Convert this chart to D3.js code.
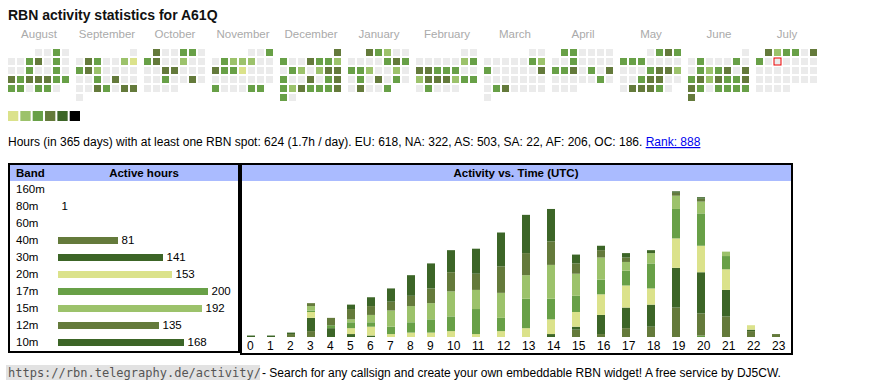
<!DOCTYPE html>
<html><head><meta charset="utf-8">
<script src="https://cdn.jsdelivr.net/npm/d3@7"></script>
<style>
body{margin:0;background:#fff;}
svg{display:block;font-family:"Liberation Sans",Arial,sans-serif;}
</style></head>
<body>
<svg id="chart" width="870" height="390"></svg>
<script>
// ---------- DATA ----------
const callsign = "A61Q";
const monthNames = ["August","September","October","November","December","January","February","March","April","May","June","July"];
const monthStarts = ["2024-08-01","2024-09-01","2024-10-01","2024-11-01","2024-12-01","2025-01-01","2025-02-01","2025-03-01","2025-04-01","2025-05-01","2025-06-01","2025-07-01"];
const todayDate = "2025-07-09";
// activity level per day (0 = none), one array per month
const dailyLevels = [
  [0,0,3,0, 0,0,3,4,0,3,0, 0,0,3,0,0,3,0, 4,3,4,4,4,3,3, 3,3,0,3,3,0],
  [0, 0,4,3,0,0,2,1, 3,4,2,0,0,0,0, 0,0,3,0,4,0,0, 0,0,4,3,0,4,4, 0],
  [4,0,0,3,3,0, 3,4,0,0,2,0,0, 0,0,4,4,0,0,0, 0,0,3,0,0,4,0, 0,0,0,0],
  [0,0,3, 0,3,2,2,2,0,0, 4,3,3,1,0,0,0, 0,0,0,0,0,0,0, 3,0,0,0,3,3],
  [4, 3,0,0,4,3,3,2, 0,3,2,0,2,4,4, 3,0,0,4,0,3,4, 3,2,4,3,3,3,4, 3,0],
  [4,3,2,0,0, 0,0,0,0,3,4,3, 3,3,2,0,0,2,0, 0,3,0,4,0,3,0, 0,4,0,0,3],
  [0,0, 0,0,0,0,0,2,3, 4,4,3,3,3,0,0, 2,4,4,4,2,3,3, 0,3,0,0,0],
  [0,0, 0,0,0,0,0,3,2, 3,0,0,0,0,0,4, 0,0,0,0,0,0,0, 0,3,4,0,0,0,0, 0],
  [3,3,0,0,0,0, 0,0,3,0,0,0,0, 3,3,4,0,3,0,4, 0,0,0,0,0,3,0, 0,0,0],
  [0,3,4,3, 3,3,3,0,0,0,0, 0,0,0,3,4,4,2, 0,0,3,4,4,0,0, 0,4,4,4,3,0],
  [0, 0,3,0,0,0,3,0, 0,3,2,3,4,0,4, 3,4,2,4,3,3,4, 4,3,0,3,3,3,3, 4],
  [4,2,3,3,0,4, 3,0,0,0,0,0,0, 0,0,0,0,0,0,0, 0,0,0,0,0,0,0, 0,0,0,0]
];
const levelColors = ["#ebebeb","#dbe28b","#9cc26b","#68a047","#647a3b","#3c6527","#000000"];
const legendLevels = [1,2,3,4,5,6];

const totalHours = 624, perDay = "1.7h", rank = 888;
const continents = ["EU","NA","AS","SA","AF","OC"];
const continentHours = [618,322,503,22,206,186];

const bands = ["160m","80m","60m","40m","30m","20m","17m","15m","12m","10m"];
const bandHours = [0,1,0,81,141,153,200,192,135,168];
const bandColors = ["#dbe28b","#68a047","#9cc26b","#647a3b","#3c6527","#dbe28b","#68a047","#9cc26b","#647a3b","#3c6527"];

const hourLabels = ["0","1","2","3","4","5","6","7","8","9","10","11","12","13","14","15","16","17","18","19","20","21","22","23"];
const h160m = [0,0,0,0,0,0,0,0,0,0,0,0,0,0,0,0,0,0,0,0,0,0,0,0];
const h80m  = [0,0,0,0,0,0,0,0,0,0,0,0,0,0,0,0,0,0,0,0,1,0,0,0];
const h60m  = [0,0,0,0,0,0,0,0,0,0,0,0,0,0,0,0,0,0,0,0,0,0,0,0];
const h40m  = [0,0,2,4,0,0,0,0,0,0,0,0,0,0,0,5,2,6,7,20,15,14,4,2];
const h30m  = [1,1,1,9,6,2,1,0,0,0,0,0,0,0,2,2,13,14,15,27,28,18,1,0];
const h20m  = [0,0,0,4,0,4,6,2,3,3,4,2,4,6,10,10,14,15,11,20,18,14,3,0];
const h17m  = [0,0,0,1,2,4,3,5,7,9,10,17,9,20,14,11,10,10,17,20,22,9,0,0];
const h15m  = [0,0,0,3,0,2,5,11,11,11,17,13,17,16,23,15,15,6,7,9,8,3,0,0];
const h12m  = [0,0,0,2,5,7,6,6,7,10,13,11,18,15,16,7,5,3,0,2,2,0,0,0];
const h10m  = [0,0,0,0,0,3,6,9,14,17,15,17,23,26,22,6,3,3,2,1,1,0,0,0];

// ---------- DRAW ----------
const svg = d3.select("#chart");
const parse = d3.timeParse("%Y-%m-%d");

svg.append("text").attr("x",8).attr("y",20).attr("font-size",14).attr("font-weight","bold")
  .attr("fill","#111").text("RBN activity statistics for " + callsign);

// calendar
const xMonth = d3.scaleLinear().domain([0,12]).range([8, 8+68*12]);
const xDow = d3.scaleBand().domain(d3.range(7)).range([0,61]).paddingInner(2/9).paddingOuter(0);
const yWeek = d3.scaleBand().domain(d3.range(6)).range([49,101]).paddingInner(2/9).paddingOuter(0);
const color = d3.scaleOrdinal().domain(d3.range(levelColors.length)).range(levelColors);
const today = parse(todayDate);

monthNames.forEach((name,m)=>{
  const start = parse(monthStarts[m]);
  const firstDow = (start.getDay()+6)%7;
  const g = svg.append("g").attr("transform",`translate(${xMonth(m)},0)`);
  g.append("text").attr("x",31).attr("y",38).attr("text-anchor","middle")
    .attr("font-size",11.5).attr("fill","#aaa").text(name);
  const days = dailyLevels[m].map((lv,i)=>({date:d3.timeDay.offset(start,i), lv, i}));
  g.selectAll("rect").data(days).join("rect")
    .attr("x",d=>xDow((d.date.getDay()+6)%7))
    .attr("y",d=>yWeek(Math.floor((d.i+firstDow)/7)))
    .attr("width",xDow.bandwidth()).attr("height",yWeek.bandwidth())
    .attr("fill",d=>color(d.lv))
    .attr("stroke",d=>+d.date===+today?"#e00":"none")
    .attr("stroke-width",1);
});

// legend
const xLeg = d3.scaleBand().domain(legendLevels).range([8,80]).paddingInner(1/6).paddingOuter(0);
svg.selectAll("rect.leg").data(legendLevels).join("rect").attr("class","leg")
  .attr("x",d=>xLeg(d)).attr("y",111).attr("width",xLeg.bandwidth()).attr("height",10)
  .attr("fill",d=>color(d));

// info line
const info = svg.append("text").attr("x",8).attr("y",146).attr("font-size",12).attr("fill","#000");
info.append("tspan").text(`Hours (in 365 days) with at least one RBN spot: ${totalHours} (${perDay} / day). ` +
  continents.map((c,i)=>`${c}: ${continentHours[i]}`).join(", ") + ". ");
info.append("tspan").attr("fill","#00e").style("text-decoration","underline").text(`Rank: ${rank}`);

// band panel
const bp = svg.append("g");
bp.append("rect").attr("x",9).attr("y",164).attr("width",230).attr("height",188)
  .attr("fill","#fff").attr("stroke","#000").attr("stroke-width",2);
bp.append("rect").attr("x",10).attr("y",165).attr("width",228).attr("height",16).attr("fill","#aabbff");
bp.append("text").attr("x",16).attr("y",177).attr("font-size",11.5).attr("font-weight","bold").text("Band");
bp.append("text").attr("x",144).attr("y",177).attr("font-size",11.5).attr("font-weight","bold")
  .attr("text-anchor","middle").text("Active hours");
const yBand = d3.scalePoint().domain(bands).range([193,346]);
const xBar = d3.scaleLinear().domain([0,200]).range([0,150]);
const rows = bp.selectAll("g.row").data(bands.map((b,i)=>({b, v:bandHours[i], c:bandColors[i]})))
  .join("g").attr("class","row").attr("transform",d=>`translate(0,${yBand(d.b)})`);
rows.append("text").attr("x",16).attr("font-size",11.5).text(d=>d.b);
rows.filter(d=>d.v>0).append("rect").attr("x",58).attr("y",-7).attr("height",7)
  .attr("width",d=>Math.floor(xBar(d.v))).attr("fill",d=>d.c);
rows.filter(d=>d.v>0).append("text").attr("x",d=>58+Math.floor(xBar(d.v))+3.5).attr("font-size",11.5).text(d=>d.v);

// activity panel
const ap = svg.append("g");
ap.append("rect").attr("x",241).attr("y",164).attr("width",551).attr("height",190)
  .attr("fill","#fff").attr("stroke","#000").attr("stroke-width",2);
ap.append("rect").attr("x",242).attr("y",165).attr("width",549).attr("height",16).attr("fill","#aabbff");
ap.append("text").attr("x",516).attr("y",177).attr("font-size",11.5).attr("font-weight","bold")
  .attr("text-anchor","middle").text("Activity vs. Time (UTC)");

const hourly = [h160m,h80m,h60m,h40m,h30m,h20m,h17m,h15m,h12m,h10m];
const table = hourLabels.map((h,i)=>{ const o={hour:h}; bands.forEach((b,k)=>o[b]=hourly[k][i]); return o; });
const stack = d3.stack().keys(bands)(table);
const maxTotal = d3.max(table, d=>d3.sum(bands, b=>d[b]));
// table-like columns: width depends on label length
const lefts = []; let acc = 247;
hourLabels.forEach(h=>{ lefts.push(acc); acc += h.length===1 ? 20 : 25; });
const xHour = d3.scaleOrdinal().domain(hourLabels).range(lefts);
const yAct = d3.scaleLinear().domain([0,maxTotal]).range([337,191.3]);
const bandColor = d3.scaleOrdinal().domain(bands).range(bandColors);

ap.selectAll("g.layer").data(stack).join("g").attr("class","layer")
  .attr("fill",d=>bandColor(d.key))
  .selectAll("rect").data(d=>d.filter(p=>p[1]>p[0])).join("rect")
  .attr("x",d=>xHour(d.data.hour)).attr("width",8)
  .attr("y",d=>yAct(d[1])).attr("height",d=>yAct(d[0])-yAct(d[1]));
ap.selectAll("text.hr").data(hourLabels).join("text").attr("class","hr")
  .attr("x",d=>xHour(d)).attr("y",350).attr("font-size",12).text(d=>d);

// footer
const ft = svg.append("g");
const url = "https://rbn.telegraphy.de/activity/";
ft.append("rect").attr("x",6).attr("y",365).attr("width",254).attr("height",15).attr("fill","#e2e2e2");
ft.append("text").attr("x",8).attr("y",377).attr("font-family","'DejaVu Sans Mono',monospace")
  .attr("font-size",12).attr("fill","#555").text(url);
ft.append("text").attr("x",262).attr("y",377).attr("font-size",12)
  .text(" - Search for any callsign and create your own embeddable RBN widget! A free service by DJ5CW.");
</script>
</body></html>
